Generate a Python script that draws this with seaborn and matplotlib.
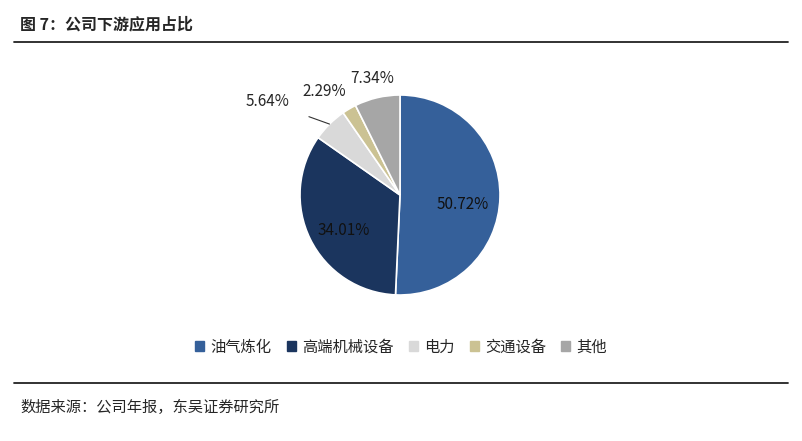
import numpy as np
import seaborn as sns
import matplotlib.pyplot as plt

categories = ['油气炼化', '高端机械设备', '电力', '交通设备', '其他']
shares = [50.72, 34.01, 5.64, 2.29, 7.34]
colors = ['#35609a', '#1b355e', '#d9d9d9', '#cbc293', '#a6a6a6']

sns.set_style('white')
plt.rcParams['font.family'] = ['Noto Sans CJK SC', 'DejaVu Sans']

fig = plt.figure(figsize=(8.02, 4.41), dpi=100)

# header / footer
fig.text(0.025, 0.945, '图 7：公司下游应用占比', fontsize=11.5, fontweight='bold', va='center')
fig.add_artist(plt.Line2D([0.018, 0.982], [0.905, 0.905], color='#222222', lw=1.3))
fig.add_artist(plt.Line2D([0.018, 0.982], [0.132, 0.132], color='#222222', lw=1.3))
fig.text(0.025, 0.075, '数据来源：公司年报，东吴证券研究所', fontsize=11, va='center')

ax = fig.add_axes([300 / 802, (441 - 295) / 441, 200 / 802, 200 / 441])
wedges, _ = ax.pie(shares, colors=colors, startangle=90, counterclock=False,
                   wedgeprops=dict(edgecolor='white', linewidth=1.2))
ax.set_xlim(-1, 1)
ax.set_ylim(-1, 1)
ax.set_aspect('equal')

for i, (w, s) in enumerate(zip(wedges, shares)):
    mid = np.deg2rad((w.theta1 + w.theta2) / 2)
    lab = f'{s:.2f}%'
    if s > 20:
        r = 0.63
        ax.text(r * np.cos(mid), r * np.sin(mid) - 0.08, lab, ha='center', va='center',
                fontsize=11, color='#111111')
    elif i == 2:
        ax.annotate(lab, xy=(np.cos(mid), np.sin(mid)),
                    xytext=(-1.32, 0.93), ha='center', va='center', fontsize=11,
                    arrowprops=dict(arrowstyle='-', color='#333333', lw=0.8,
                                    shrinkA=12, shrinkB=0))
    else:
        r = 1.2
        ax.text(r * np.cos(mid) - (0.15 if i == 3 else 0), r * np.sin(mid), lab,
                ha='center', va='center', fontsize=11)

handles = [plt.Rectangle((0, 0), 1, 1, color=c) for c in colors]
fig.legend(handles, categories, loc='center', bbox_to_anchor=(0.5, 0.213), ncol=5,
           frameon=False, fontsize=11, handlelength=0.6, handleheight=0.6,
           handletextpad=0.4, columnspacing=1.0)

fig.savefig('out.png', dpi=100)
